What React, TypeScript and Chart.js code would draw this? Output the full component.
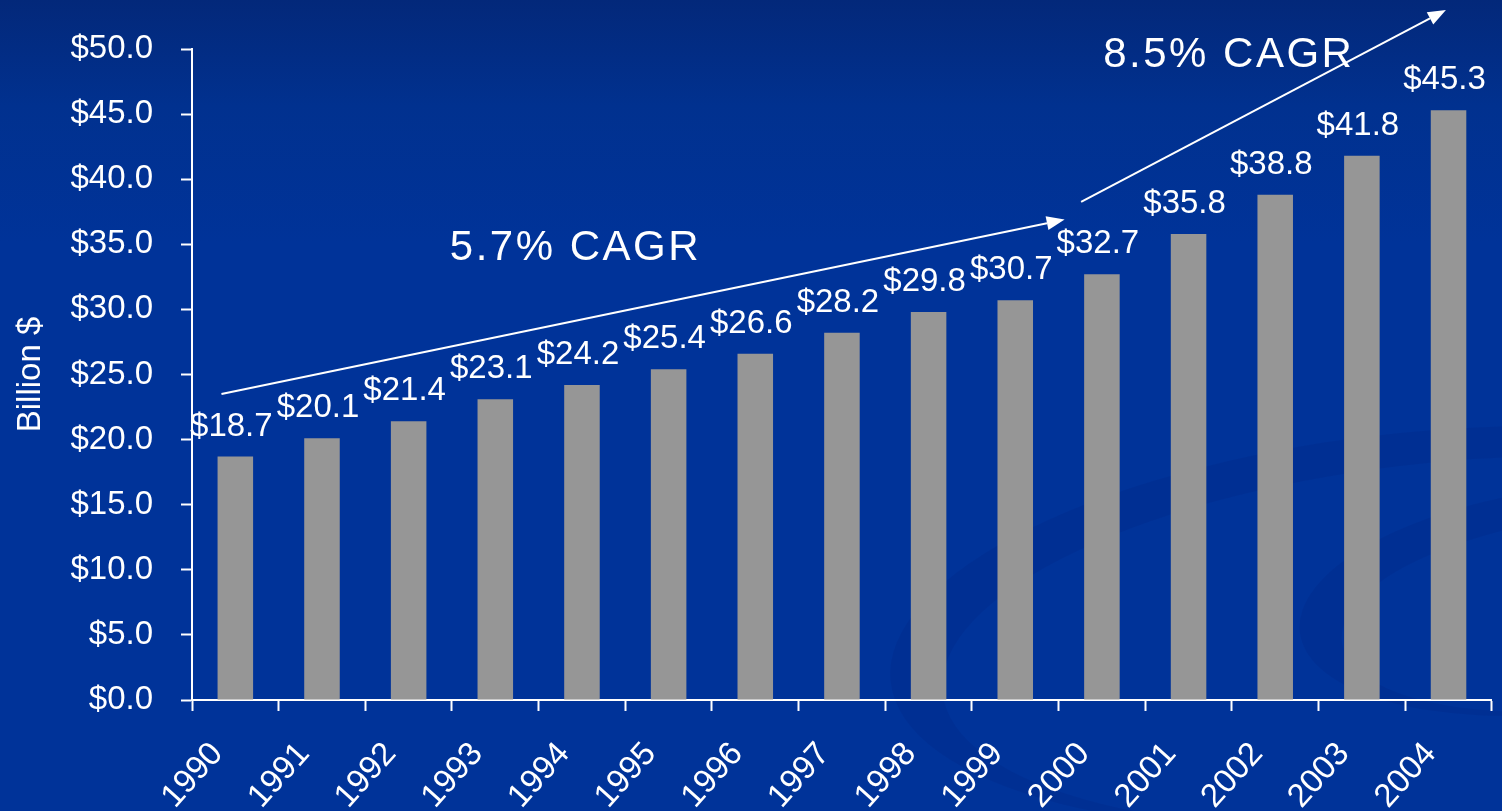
import React, { useEffect, useRef } from "react";
import { Chart, registerables } from "chart.js";

Chart.register(...registerables);

// ---- data ----
const years = ["1990", "1991", "1992", "1993", "1994", "1995", "1996", "1997", "1998", "1999", "2000", "2001", "2002", "2003", "2004"];
const revenue = [18.7, 20.1, 21.4, 23.1, 24.2, 25.4, 26.6, 28.2, 29.8, 30.7, 32.7, 35.8, 38.8, 41.8, 45.3];
const yMin = 0;
const yMax = 50;
const yStep = 5;
const yTitle = "Billion $";
// annotations in data space: [category index, value]
const cagrTexts = ["5.7% CAGR", "8.5% CAGR"];
const cagrTextAnchors = [[3.91, 33.8], [11.45, 48.6]];
const arrowStarts = [[-0.16, 23.5], [9.76, 38.25]];
const arrowEnds = [[9.57, 36.9], [13.97, 53.0]];

const FONT = "'Liberation Sans', Arial, sans-serif";

function crescent(ctx: any, o: number[], i: number[], rot: number) {
  ctx.beginPath();
  ctx.ellipse(o[0], o[1], o[2], o[3], rot, 0, Math.PI * 2);
  ctx.ellipse(i[0], i[1], i[2], i[3], rot, 0, Math.PI * 2);
  ctx.fill("evenodd");
}

const backgroundPlugin = {
  id: "bg",
  beforeDraw(chart: any) {
    const { ctx, width, height } = chart;
    ctx.save();
    const g = ctx.createLinearGradient(0, 0, 0, height);
    g.addColorStop(0, "#03287a");
    g.addColorStop(0.13, "#01318f");
    g.addColorStop(0.3, "#003399");
    g.addColorStop(1, "#003399");
    ctx.fillStyle = g;
    ctx.fillRect(0, 0, width, height);
    // subtle swooshes
    ctx.fillStyle = "rgba(0, 25, 110, 0.14)";
    crescent(ctx, [1420, 628, 532, 196], [1445, 642, 505, 180], -0.1);
    crescent(ctx, [1570, 600, 272, 112], [1590, 612, 250, 96], -0.12);
    ctx.restore();
  },
};

const annotationPlugin = {
  id: "annot",
  afterDatasetsDraw(chart: any) {
    const { ctx } = chart;
    const xs = chart.scales.x;
    const ys = chart.scales.y;
    ctx.save();
    // value labels
    const meta = chart.getDatasetMeta(0);
    ctx.fillStyle = "#ffffff";
    ctx.font = `33px ${FONT}`;
    ctx.textAlign = "center";
    ctx.textBaseline = "alphabetic";
    meta.data.forEach((bar: any, i: number) => {
      ctx.fillText("$" + revenue[i].toFixed(1), bar.x - 4, bar.y - 21);
    });
    // arrows
    ctx.strokeStyle = "#ffffff";
    ctx.lineWidth = 2;
    for (let k = 0; k < arrowStarts.length; k++) {
      const x1 = xs.getPixelForValue(arrowStarts[k][0]);
      const y1 = ys.getPixelForValue(arrowStarts[k][1]);
      const x2 = xs.getPixelForValue(arrowEnds[k][0]);
      const y2 = ys.getPixelForValue(arrowEnds[k][1]);
      const ang = Math.atan2(y2 - y1, x2 - x1);
      const hl = 18;
      const hw = 7;
      const bx = x2 - hl * Math.cos(ang);
      const by = y2 - hl * Math.sin(ang);
      ctx.beginPath();
      ctx.moveTo(x1, y1);
      ctx.lineTo(bx, by);
      ctx.stroke();
      ctx.beginPath();
      ctx.moveTo(x2, y2);
      ctx.lineTo(bx + hw * Math.sin(ang), by - hw * Math.cos(ang));
      ctx.lineTo(bx - hw * Math.sin(ang), by + hw * Math.cos(ang));
      ctx.closePath();
      ctx.fillStyle = "#ffffff";
      ctx.fill();
    }
    // CAGR texts
    ctx.font = `42px ${FONT}`;
    ctx.textAlign = "left";
    (ctx as any).letterSpacing = "2.5px";
    for (let k = 0; k < cagrTexts.length; k++) {
      const cx = xs.getPixelForValue(cagrTextAnchors[k][0]);
      const cy = ys.getPixelForValue(cagrTextAnchors[k][1]);
      const w = ctx.measureText(cagrTexts[k]).width - 2.5;
      ctx.fillText(cagrTexts[k], cx - w / 2, cy);
    }
    ctx.restore();
  },
};

export default function App() {
  const ref = useRef<HTMLCanvasElement>(null);
  useEffect(() => {
    if (!ref.current) return;
    const chart = new Chart(ref.current, {
      type: "bar",
      data: {
        labels: years,
        datasets: [
          {
            data: revenue,
            backgroundColor: "#969696",
            barPercentage: 0.82,
            categoryPercentage: 0.5,
          },
        ],
      },
      options: {
        responsive: false,
        animation: false,
        layout: { padding: { top: 49, right: 1, left: 0, bottom: 0 } },
        plugins: { legend: { display: false }, tooltip: { enabled: false } },
        scales: {
          x: {
            offset: true,
            grid: {
              drawOnChartArea: false,
              drawTicks: true,
              tickLength: 11,
              tickColor: "#ffffff",
              tickWidth: 2,
              offset: true,
            },
            border: { display: true, color: "#ffffff", width: 2 },
            ticks: {
              color: "#ffffff",
              font: { family: FONT, size: 33 },
              minRotation: 48,
              maxRotation: 48,
              autoSkip: false,
              padding: 24,
              labelOffset: -18,
            },
            afterFit: (s: any) => {
              s.height = 111;
            },
          },
          y: {
            min: yMin,
            max: yMax,
            grid: {
              drawOnChartArea: false,
              drawTicks: true,
              tickLength: 11,
              tickColor: "#ffffff",
              tickWidth: 2,
            },
            border: { display: true, color: "#ffffff", width: 2 },
            ticks: {
              stepSize: yStep,
              color: "#ffffff",
              font: { family: FONT, size: 33 },
              padding: 28,
              callback: (v: any) => "$" + Number(v).toFixed(1),
            },
            title: {
              display: true,
              text: yTitle,
              color: "#ffffff",
              font: { family: FONT, size: 33 },
              padding: { top: 11, bottom: 0 },
            },
            afterFit: (s: any) => {
              s.width = 192;
            },
          },
        },
      },
      plugins: [backgroundPlugin, annotationPlugin],
    });
    return () => chart.destroy();
  }, []);
  return (
    <div style={{ position: "absolute", left: 0, top: 0, width: 1502, height: 811 }}>
      <canvas ref={ref} width={1502} height={811} style={{ display: "block" }} />
    </div>
  );
}
